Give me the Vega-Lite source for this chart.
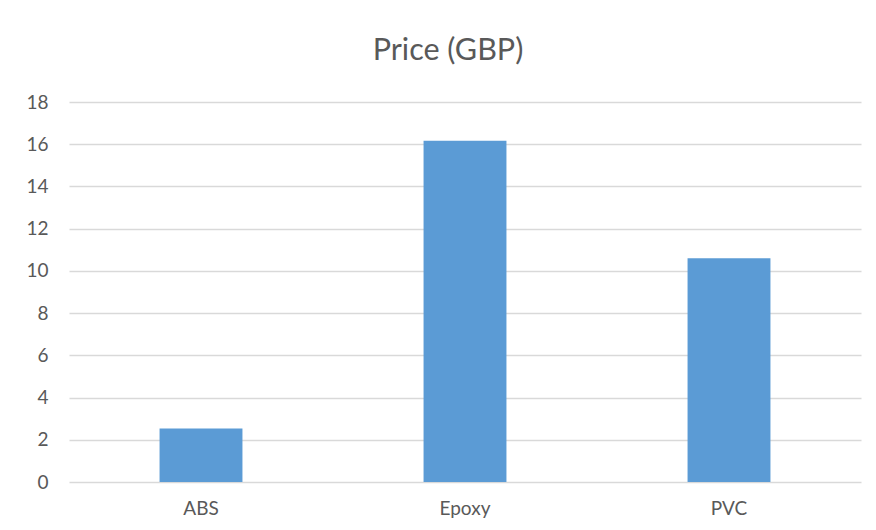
{
  "$schema": "https://vega.github.io/schema/vega-lite/v6.json",
  "autosize": {"type": "none"},
  "width": 792,
  "height": 380,
  "padding": {"left": 69, "top": 102, "right": 15, "bottom": 48},
  "background": "#ffffff",
  "title": {
    "text": "Price (GBP)",
    "font": "Lato",
    "fontSize": 30.5,
    "fontWeight": "normal",
    "color": "#595959",
    "anchor": "middle",
    "baseline": "alphabetic",
    "offset": 3,
    "dx": -17
  },
  "data": {
    "values": [
      {"material": "ABS", "price": 2.53},
      {"material": "Epoxy", "price": 16.17},
      {"material": "PVC", "price": 10.6}
    ]
  },
  "mark": {"type": "bar", "color": "#5B9BD5"},
  "encoding": {
    "x": {
      "field": "material",
      "type": "nominal",
      "sort": null,
      "scale": {"paddingInner": 0.686, "paddingOuter": 0.343},
      "axis": {
        "title": null,
        "labelAngle": 0,
        "domain": false,
        "ticks": false,
        "labelPadding": 17,
        "labelFont": "Lato",
        "labelFontSize": 19,
        "labelColor": "#595959"
      }
    },
    "y": {
      "field": "price",
      "type": "quantitative",
      "scale": {"domain": [0, 18], "nice": false},
      "axis": {
        "title": null,
        "values": [0, 2, 4, 6, 8, 10, 12, 14, 16, 18],
        "domain": false,
        "ticks": false,
        "grid": true,
        "gridColor": "#D9D9D9",
        "gridWidth": 1.3,
        "labelPadding": 21,
        "labelFont": "Lato",
        "labelFontSize": 19,
        "labelColor": "#595959"
      }
    }
  },
  "config": {
    "view": {"stroke": null}
  }
}
